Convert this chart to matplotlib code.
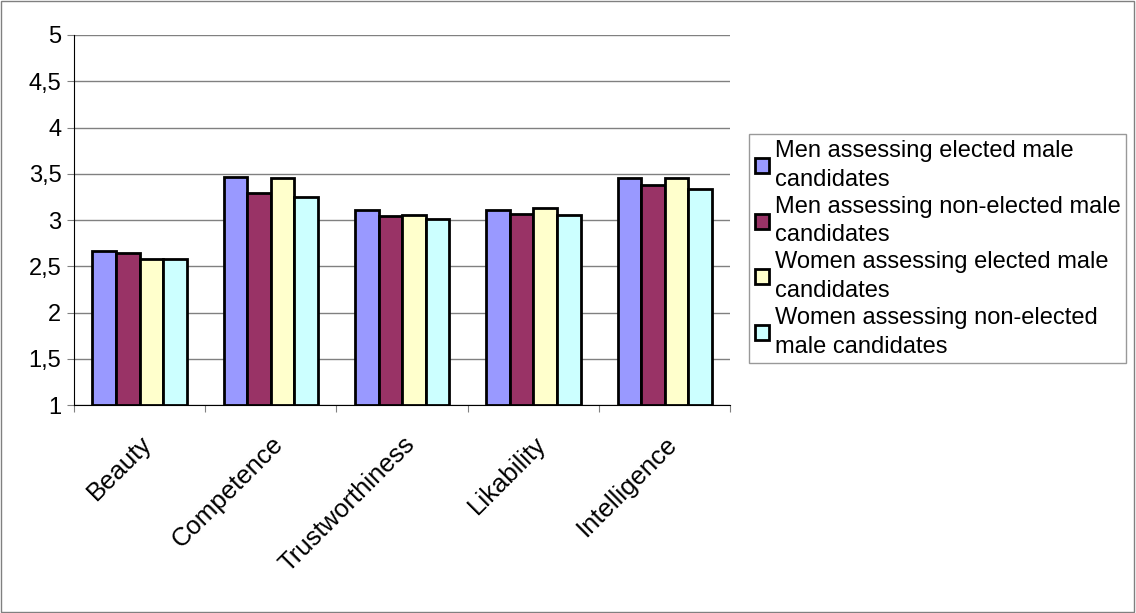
import numpy as np
import matplotlib.pyplot as plt
from matplotlib.patches import Rectangle

plt.rcParams['font.family'] = ['Liberation Sans', 'DejaVu Sans']

# data
categories = ["Beauty", "Competence", "Trustworthiness", "Likability", "Intelligence"]
series_labels = [
    "Men assessing elected male\ncandidates",
    "Men assessing non-elected male\ncandidates",
    "Women assessing elected male\ncandidates",
    "Women assessing non-elected\nmale candidates",
]
men_elected = [2.67, 3.46, 3.11, 3.11, 3.45]
men_nonelected = [2.64, 3.29, 3.04, 3.07, 3.38]
women_elected = [2.58, 3.45, 3.06, 3.13, 3.45]
women_nonelected = [2.58, 3.25, 3.01, 3.05, 3.34]
colors = ["#9999FF", "#993366", "#FFFFCC", "#CCFFFF"]

fig = plt.figure(figsize=(11.36, 6.13), dpi=100)
ax = fig.add_axes([0.065, 0.339, 0.578, 0.604])

x = np.arange(len(categories))
w = 0.18
all_series = [men_elected, men_nonelected, women_elected, women_nonelected]
for i, vals in enumerate(all_series):
    ax.bar(x + (i - 1.5) * w, np.array(vals) - 1, bottom=1, width=w,
           color=colors[i], edgecolor="black", linewidth=2,
           label=series_labels[i], zorder=3)

ax.set_ylim(1, 5)
ax.set_xlim(-0.5, len(categories) - 0.5)
yt = np.arange(1, 5.01, 0.5)
ax.set_yticks(yt)
ax.set_yticklabels([("%g" % v).replace(".", ",") for v in yt], fontsize=17)
ax.yaxis.grid(True, color="#808080", linewidth=1, zorder=0)

# category boundaries as major ticks, names as minor ticks
ax.set_xticks(np.arange(-0.5, len(categories) + 0.5, 1))
ax.set_xticklabels([])
ax.set_xticks(x, minor=True)
ax.set_xticklabels(categories, minor=True, rotation=45, ha="right",
                   rotation_mode="anchor", fontsize=18.5)
ax.tick_params(axis="x", which="minor", length=0, pad=19)
ax.tick_params(axis="x", which="major", length=5, color="#808080")
ax.tick_params(axis="y", length=5, color="#808080", pad=4)

for s in ["top", "right"]:
    ax.spines[s].set_visible(False)
ax.spines["left"].set_color("black")
ax.spines["bottom"].set_color("black")

leg = fig.legend(loc="upper left", bbox_to_anchor=(0.659, 0.781),
                 fontsize=17, frameon=True, fancybox=False,
                 edgecolor="#808080", handlelength=0.6, handleheight=0.6,
                 handletextpad=0.25, labelspacing=0.2, borderpad=0.25,
                 borderaxespad=0)
leg.get_frame().set_linewidth(1)
for t in leg.get_texts():
    t.set_linespacing(1.4)

# thin border round the whole figure
fig.patches.append(Rectangle((0.001, 0.001), 0.997, 0.997, transform=fig.transFigure,
                             fill=False, edgecolor="#808080", linewidth=1))

fig.savefig("out.png", dpi=100)
